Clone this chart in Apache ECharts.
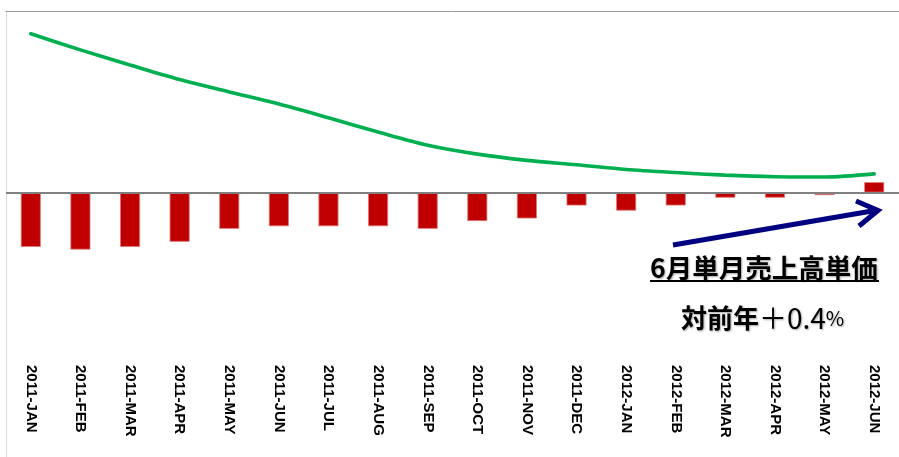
<!DOCTYPE html>
<html>
<head>
<meta charset="utf-8">
<script src="https://cdn.jsdelivr.net/npm/echarts@6/dist/echarts.min.js"></script>
<style>
  html, body { margin: 0; padding: 0; background: #fff; }
  #chart { width: 899px; height: 457px; }
</style>
</head>
<body>
<div id="chart"></div>
<script>
// Months shown on the category axis
const months = [
  '2011-JAN', '2011-FEB', '2011-MAR', '2011-APR', '2011-MAY', '2011-JUN',
  '2011-JUL', '2011-AUG', '2011-SEP', '2011-OCT', '2011-NOV', '2011-DEC',
  '2012-JAN', '2012-FEB', '2012-MAR', '2012-APR', '2012-MAY', '2012-JUN'
];

// Year-over-year change of monthly unit sales price (%)
const yoyChange = [
  -2.1, -2.2, -2.1, -1.9, -1.4, -1.3,
  -1.3, -1.3, -1.4, -1.1, -1.0, -0.5,
  -0.7, -0.5, -0.2, -0.2, -0.1, 0.4
];

// Trend line drawn above the bars
const trendLine = [
  6.12, 5.50, 4.92, 4.36, 3.88, 3.41,
  2.88, 2.33, 1.82, 1.48, 1.24, 1.07,
  0.89, 0.77, 0.67, 0.61, 0.60, 0.72
];

const chart = echarts.init(document.getElementById('chart'));

chart.setOption({
  animation: false,
  backgroundColor: '#ffffff',
  grid: { left: 6, right: -3, top: 11, bottom: 0, containLabel: false },
  xAxis: [
    {
      type: 'category',
      data: months,
      position: 'bottom',
      offset: -92,
      axisLine: { show: false, onZero: false },
      axisTick: { show: false },
      axisLabel: {
        interval: 0,
        rotate: -90,
        margin: 0,
        color: '#000',
        fontFamily: '"Liberation Sans"',
        fontWeight: 'bold',
        fontSize: 15
      },
      splitLine: { show: false }
    },
    {
      type: 'category',
      data: months,
      position: 'top',
      axisLine: { show: true, onZero: false, lineStyle: { color: '#9a9a9a', width: 1 } },
      axisTick: { show: false },
      axisLabel: { show: false },
      splitLine: { show: false }
    }
  ],
  yAxis: {
    type: 'value',
    min: -10.2,
    max: 7,
    axisLine: { show: true, lineStyle: { color: '#d9d9d9', width: 1 } },
    axisTick: { show: false },
    axisLabel: { show: false },
    splitLine: { show: false }
  },
  series: [
    {
      name: '対前年',
      type: 'bar',
      data: yoyChange,
      barWidth: 20,
      itemStyle: { color: '#c00000', borderColor: '#e07a7a', borderWidth: 0.8 },
      markLine: {
        silent: true,
        symbol: 'none',
        label: { show: false },
        lineStyle: { color: '#808080', width: 2, type: 'solid' },
        data: [{ yAxis: 0 }]
      }
    },
    {
      name: '単価',
      type: 'line',
      data: trendLine,
      smooth: 0.3,
      symbol: 'none',
      lineStyle: { color: '#00b050', width: 3.6, cap: 'round' },
      z: 3
    }
  ],
  graphic: [
    {
      type: 'polyline',
      shape: { points: [[673, 245], [875, 210.5]] },
      style: { stroke: '#000080', lineWidth: 5, fill: null, lineCap: 'butt' }
    },
    {
      type: 'polyline',
      shape: { points: [[856, 201], [878, 210.5], [859, 226]] },
      style: { stroke: '#000080', lineWidth: 5, fill: null, lineJoin: 'miter', lineCap: 'butt' }
    },
    {
      type: 'text',
      x: 650,
      y: 255,
      style: {
        text: '6月単月売上高単価',
        fontFamily: '"Noto Sans CJK JP"',
        fontWeight: 'bold',
        fontSize: 26.5,
        fill: '#000',
        textShadowColor: 'rgba(0,0,0,0.35)',
        textShadowBlur: 2,
        textShadowOffsetX: 1,
        textShadowOffsetY: 1
      }
    },
    {
      type: 'line',
      shape: { x1: 650, y1: 281, x2: 879, y2: 281 },
      style: { stroke: '#000', lineWidth: 2 }
    },
    {
      type: 'text',
      x: 681,
      y: 304,
      style: {
        text: '{k|対前年}{n|＋0.4}{p|%}',
        fill: '#000',
        textShadowColor: 'rgba(0,0,0,0.35)',
        textShadowBlur: 2,
        textShadowOffsetX: 1,
        textShadowOffsetY: 1,
        rich: {
          k: { fontFamily: '"Noto Sans CJK JP"', fontWeight: 'bold', fontSize: 26, fill: '#000' },
          n: { fontFamily: '"Noto Sans CJK JP"', fontWeight: 'normal', fontSize: 28, fill: '#000' },
          p: { fontFamily: '"Noto Sans CJK JP"', fontWeight: 'normal', fontSize: 20, fill: '#000' }
        }
      }
    }
  ]
});
</script>
</body>
</html>
